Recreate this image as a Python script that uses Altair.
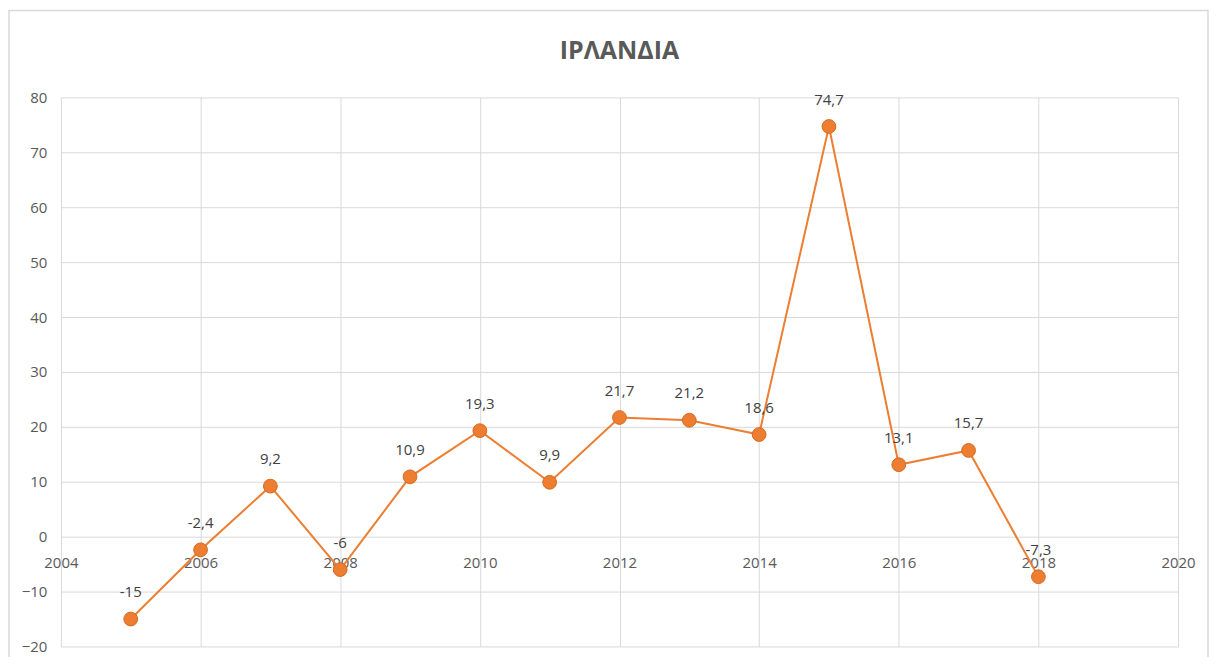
import altair as alt
import pandas as pd

years = [2005, 2006, 2007, 2008, 2009, 2010, 2011, 2012, 2013, 2014, 2015, 2016, 2017, 2018]
values = [-15, -2.4, 9.2, -6, 10.9, 19.3, 9.9, 21.7, 21.2, 18.6, 74.7, 13.1, 15.7, -7.3]
x_ticks = [2004, 2006, 2008, 2010, 2012, 2014, 2016, 2018, 2020]
y_ticks = [-20, -10, 0, 10, 20, 30, 40, 50, 60, 70, 80]
title_text = "ΙΡΛΑΝΔΙΑ"

def fmt(v):
    s = ("%g" % v)
    return s.replace(".", ",")

df = pd.DataFrame({"year": years, "value": values, "label": [fmt(v) for v in values]})

FONT = "Open Sans"
ORANGE = "#ED7D31"
W, H = 1119, 550

xs = alt.X("year:Q", scale=alt.Scale(domain=[2004, 2020], nice=False, zero=False),
           axis=alt.Axis(values=x_ticks, format="d", title=None, grid=True, gridColor="#d9d9d9",
                         domain=False, ticks=False, offset=-110, labelPadding=19,
                         labelFlush=False, labelOverlap=False,
                         labelFontSize=15, labelColor="#595959", labelFont=FONT))
ys = alt.Y("value:Q", scale=alt.Scale(domain=[-20, 80], nice=False),
           axis=alt.Axis(values=y_ticks, title=None, grid=True, gridColor="#d9d9d9",
                         domain=False, ticks=False, labelPadding=14, labelFlush=False,
                         labelFontSize=15, labelColor="#595959", labelFont=FONT))

base = alt.Chart(df)
line = base.mark_line(color=ORANGE, strokeWidth=2).encode(x=xs, y=ys)
pts = base.mark_point(filled=True, fill=ORANGE, stroke="#D4691F", strokeWidth=1,
                      size=190, opacity=1, shape="circle").encode(x="year:Q", y="value:Q")
txt = base.mark_text(dy=-27, fontSize=15, color="#404040", font=FONT).encode(
    x="year:Q", y="value:Q", text="label:N")

frame = alt.Chart(pd.DataFrame({"k": [0]})).mark_rect(
    fill=None, stroke="#d9d9d9", strokeWidth=1.5).encode(
    x=alt.value(-52), x2=alt.value(1149), y=alt.value(-87), y2=alt.value(575))

chart = alt.layer(frame, line, pts, txt).properties(
    width=W, height=H,
    title=alt.TitleParams(title_text, fontSize=25, fontWeight="bold", color="#595959",
                          font=FONT, anchor="middle", offset=-54),
    autosize=alt.AutoSizeParams(type="none"),
    padding={"left": 53, "top": 89, "right": 31, "bottom": 10},
).configure_view(stroke=None)

chart.save("out.html", embed_options={"renderer": "svg", "actions": False})
